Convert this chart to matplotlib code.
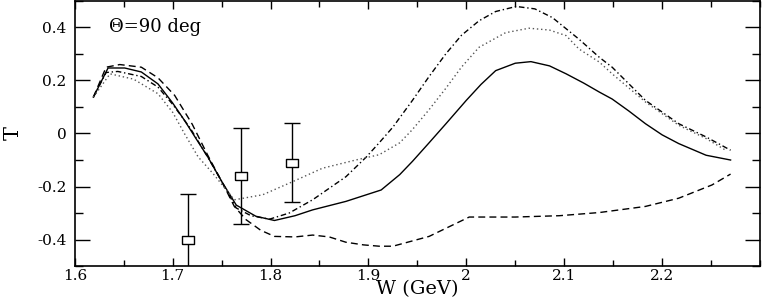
import matplotlib
matplotlib.use("Agg")
import matplotlib.pyplot as plt
from matplotlib.ticker import MultipleLocator

# curves
W_SOLID = [1.619, 1.634, 1.651, 1.668, 1.685, 1.70, 1.712, 1.724, 1.736, 1.75, 1.765, 1.785, 1.804,
           1.825, 1.843, 1.877, 1.913, 1.932, 1.945, 1.962, 1.979, 2.00, 2.015, 2.03, 2.05, 2.066,
           2.085, 2.102, 2.12, 2.136, 2.149, 2.166, 2.183, 2.2, 2.217, 2.245, 2.27]
T_SOLID = [0.137, 0.247, 0.247, 0.232, 0.187, 0.115, 0.05, -0.02, -0.089, -0.18, -0.27, -0.312, -0.328,
           -0.31, -0.288, -0.256, -0.213, -0.155, -0.105, -0.035, 0.036, 0.125, 0.185, 0.237, 0.265, 0.271,
           0.255, 0.225, 0.19, 0.156, 0.13, 0.085, 0.037, -0.005, -0.038, -0.082, -0.10]

W_DASH = [1.619, 1.632, 1.646, 1.668, 1.685, 1.702, 1.72, 1.736, 1.75, 1.763, 1.775, 1.79, 1.804,
          1.825, 1.843, 1.86, 1.877, 1.895, 1.911, 1.925, 1.962, 2.003, 2.05, 2.095, 2.136, 2.183,
          2.217, 2.251, 2.27]
T_DASH = [0.137, 0.25, 0.26, 0.25, 0.21, 0.144, 0.035, -0.083, -0.18, -0.275, -0.325, -0.365, -0.388,
          -0.39, -0.383, -0.39, -0.41, -0.42, -0.425, -0.425, -0.388, -0.315, -0.315, -0.31, -0.298,
          -0.275, -0.244, -0.194, -0.153]

W_DASHDOT = [1.619, 1.632, 1.644, 1.668, 1.685, 1.70, 1.718, 1.736, 1.75, 1.765, 1.78, 1.799, 1.819,
             1.843, 1.877, 1.898, 1.911, 1.925, 1.945, 1.962, 1.979, 1.995, 2.013, 2.03, 2.051, 2.07,
             2.088, 2.115, 2.136, 2.149, 2.183, 2.217, 2.245, 2.27]
T_DASHDOT = [0.137, 0.23, 0.234, 0.215, 0.175, 0.11, 0.02, -0.09, -0.18, -0.281, -0.31, -0.323, -0.30,
             -0.25, -0.163, -0.088, -0.035, 0.024, 0.125, 0.215, 0.30, 0.37, 0.425, 0.46, 0.479, 0.47,
             0.437, 0.356, 0.287, 0.25, 0.125, 0.037, -0.013, -0.063]

W_DOT = [1.619, 1.636, 1.66, 1.685, 1.70, 1.712, 1.726, 1.741, 1.763, 1.792, 1.823, 1.853, 1.887,
         1.911, 1.932, 1.945, 1.962, 1.979, 1.995, 2.013, 2.04, 2.064, 2.085, 2.102, 2.115, 2.136,
         2.149, 2.183, 2.217, 2.245, 2.265]
T_DOT = [0.137, 0.225, 0.205, 0.15, 0.08, 0.0, -0.088, -0.15, -0.25, -0.231, -0.181, -0.131, -0.10,
         -0.08, -0.035, 0.015, 0.09, 0.17, 0.25, 0.325, 0.38, 0.397, 0.39, 0.369, 0.319, 0.269,
         0.225, 0.119, 0.031, -0.019, -0.063]

# data points
W_DATA = [1.716, 1.770, 1.822]
T_DATA = [-0.40, -0.16, -0.11]
T_ERR = [0.17, 0.18, 0.15]

plt.rcParams["font.family"] = ["DejaVu Serif"]

fig = plt.figure(figsize=(7.63, 3.0), dpi=100)
ax = fig.add_axes([0.098, 0.113, 0.898, 0.884])

ax.plot(W_SOLID, T_SOLID, color="black", lw=1.0, ls="-")
ax.plot(W_DASH, T_DASH, color="black", lw=1.0, ls=(0, (5, 3)))
ax.plot(W_DASHDOT, T_DASHDOT, color="black", lw=1.0, ls=(0, (4, 2, 1, 2)))
ax.plot(W_DOT, T_DOT, color="#555555", lw=1.0, ls=(0, (1, 2)))

rect = [(-1.6, -1), (1.6, -1), (1.6, 1), (-1.6, 1), (-1.6, -1)]
ax.errorbar(W_DATA, T_DATA, yerr=T_ERR, fmt="none", ecolor="black", elinewidth=1.0,
            capsize=6, capthick=1.0)
ax.plot(W_DATA, T_DATA, ls="none", marker=rect, ms=9, mfc="white", mec="black", mew=1.0)

ax.set_xlim(1.6, 2.3)
ax.set_ylim(-0.5, 0.5)
ax.set_xticks([1.6, 1.7, 1.8, 1.9, 2.0, 2.1, 2.2])
ax.set_xticklabels(["1.6", "1.7", "1.8", "1.9", "2", "2.1", "2.2"])
ax.set_yticks([-0.4, -0.2, 0.0, 0.2, 0.4])
ax.set_yticklabels(["-0.4", "-0.2", "0", "0.2", "0.4"])
ax.xaxis.set_minor_locator(MultipleLocator(0.05))
ax.yaxis.set_minor_locator(MultipleLocator(0.1))
ax.tick_params(which="both", direction="in", top=True, right=True, labelsize=11, width=1.0)
ax.tick_params(axis="x", which="major", length=6, pad=2)
ax.tick_params(axis="x", which="minor", length=4)
ax.tick_params(axis="y", which="major", length=11, pad=6)
ax.tick_params(axis="y", which="minor", length=6)
for s in ax.spines.values():
    s.set_linewidth(1.2)

ax.set_xlabel("W (GeV)", fontsize=14, labelpad=-2)
ax.set_ylabel("T", fontsize=15, labelpad=10)
ax.text(1.635, 0.4, "Θ=90 deg", fontsize=13, va="center", ha="left")

fig.savefig("out.png", dpi=100)
